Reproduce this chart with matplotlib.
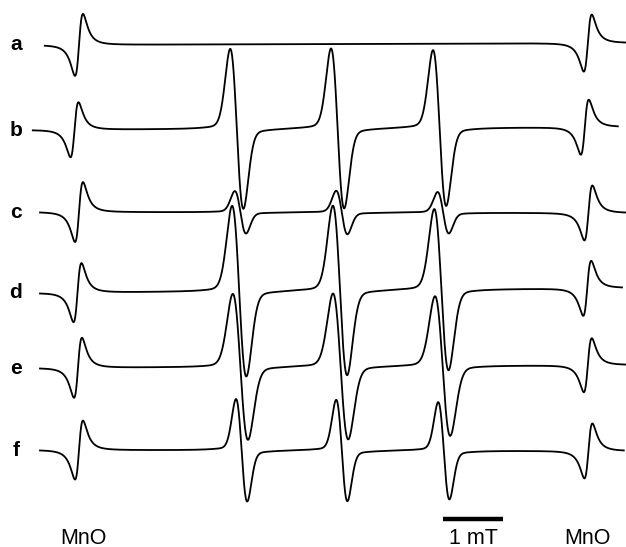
import numpy as np
import matplotlib.pyplot as plt

plt.rcParams['font.family'] = ['Liberation Sans', 'DejaVu Sans']

# --- data (field in mT, intensities in arbitrary units) ---
labels = ['a', 'b', 'c', 'd', 'e', 'f']

# MnO marker lines (low- and high-field), centre and half peak-to-peak amplitude
mno_low_center = [0.00, -0.075, 0.00, -0.025, -0.017, 0.00]
mno_high_center = [8.48, 8.43, 8.49, 8.47, 8.48, 8.49]
mno_low_amp = [31.0, 27.5, 30.0, 29.5, 30.0, 29.5]
mno_high_amp = [28.5, 27.5, 27.5, 27.5, 27.0, 27.5]

# spin-adduct triplet: line centres and amplitudes
triplet_center = [
    [2.63, 4.31, 6.01],
    [2.63, 4.31, 6.01],
    [2.69, 4.38, 6.07],
    [2.67, 4.35, 6.04],
    [2.69, 4.36, 6.06],
    [2.71, 4.38, 6.08],
]
triplet_amp = [
    [0.0, 0.0, 0.0],
    [77.0, 77.0, 75.0],
    [20.5, 21.0, 20.0],
    [82.0, 81.5, 77.5],
    [70.0, 70.0, 67.0],
    [49.5, 49.0, 47.0],
]
triplet_sigma = [0.10, 0.108, 0.092, 0.117, 0.125, 0.092]

# baseline drift (left end, right end) and sweep range of each trace
drift_left = [0.0, 0.0, 0.0, 0.0, 0.0, 0.0]
drift_right = [2.0, 3.0, -1.0, 5.0, 3.0, -1.0]
sweep_start = [-0.57, -0.77, -0.65, -0.65, -0.65, -0.65]
sweep_end = [9.12, 8.98, 9.12, 9.05, 9.12, 9.08]

# --- layout ---
trace_offset = [45, 130, 212, 293, 368, 450]
mno_width = 0.115      # Lorentzian half width (mT)
wing_width = 0.35      # broad component under the triplet lines
wing_frac = 0.05


def lorentz_deriv(B, c, g):
    u = (B - c) / g
    return u / (1 + u ** 2) ** 2 / 0.3248


def gauss_deriv(B, c, s):
    u = (B - c) / s
    return -u * np.exp(0.5 - u ** 2 / 2)


fig = plt.figure(figsize=(6.26, 5.47), dpi=100)
ax = fig.add_axes([0, 0, 1, 1])

for i, lab in enumerate(labels):
    B = np.linspace(sweep_start[i], sweep_end[i], 5000)
    sig = mno_low_amp[i] * lorentz_deriv(B, mno_low_center[i], mno_width)
    sig += mno_high_amp[i] * lorentz_deriv(B, mno_high_center[i], mno_width)
    for c, a in zip(triplet_center[i], triplet_amp[i]):
        sig += a * gauss_deriv(B, c, triplet_sigma[i])
        sig -= a * wing_frac * lorentz_deriv(B, c, wing_width)
    t = (B - sweep_start[i]) / (sweep_end[i] - sweep_start[i])
    sig += drift_left[i] * (1 - t) + drift_right[i] * t
    ax.plot(B, trace_offset[i] - sig, color='black', lw=1.3)
    ax.text(-1.05, trace_offset[i], lab, fontsize=15, fontweight='bold',
            ha='center', va='center')

# scale bar, 1 mT
bar_x0 = 6.07
ax.plot([bar_x0, bar_x0 + 1.0], [519, 519], color='black', lw=3.2,
        solid_capstyle='butt')
ax.text(bar_x0 + 0.5, 538, '1 mT', fontsize=15.5, ha='center', va='center')
ax.text(0.08, 538, 'MnO', fontsize=15.5, ha='center', va='center')
ax.text(8.48, 538, 'MnO', fontsize=15.5, ha='center', va='center')

ax.set_xlim(-79 / 60, (626 - 79) / 60)
ax.set_ylim(547, 0)
ax.axis('off')

fig.savefig('out.png', dpi=100)
